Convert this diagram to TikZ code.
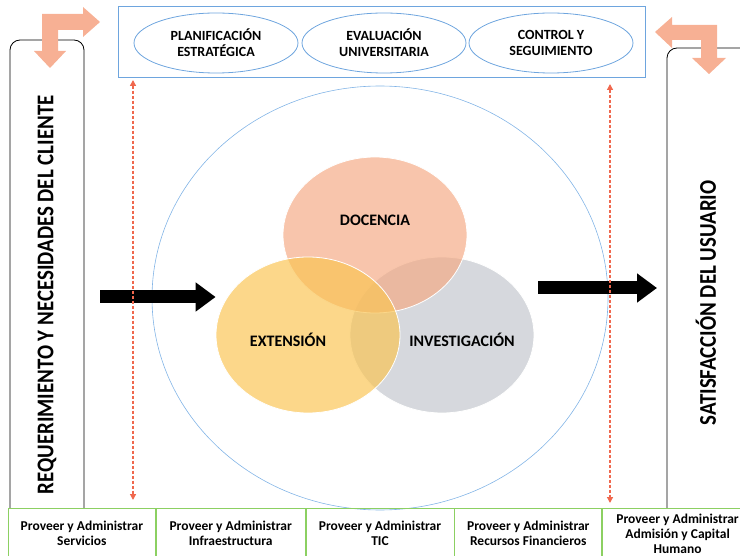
\documentclass[tikz,border=0pt]{standalone}
\usepackage{fontspec}
\setmainfont{Carlito}
\usepackage{tikz}
\usetikzlibrary{shapes.geometric,arrows.meta,positioning,calc}

\definecolor{topblue}{RGB}{110,165,222}
\definecolor{ringblue}{RGB}{130,180,230}
\definecolor{bentorange}{RGB}{247,176,148}
\definecolor{dashorange}{RGB}{240,104,78}
\definecolor{boxgreen}{RGB}{140,208,98}
\definecolor{docfill}{RGB}{245,170,132}
\definecolor{extfill}{RGB}{250,196,82}
\definecolor{invfill}{RGB}{196,200,206}
\definecolor{txt}{RGB}{30,30,30}

\begin{document}
\begin{tikzpicture}[
    x=1pt, y=-1pt,
    font=\bfseries\color{txt},
    goal/.style={ellipse, draw=topblue, thick, minimum width=164pt, minimum height=60pt, inner sep=0pt, align=center, font=\fontsize{14}{16}\selectfont\bfseries},
    venn/.style={ellipse, draw=white, thick, minimum width=184pt, minimum height=156pt},
    vennlabel/.style={font=\fontsize{16}{18}\selectfont\bfseries},
    sidetext/.style={rotate=90, font=\fontsize{24}{26}\selectfont\bfseries},
    process/.style={rectangle, draw=boxgreen, thick, minimum height=50pt, inner sep=1pt, align=center, anchor=north west, font=\fontsize{13.5}{15}\selectfont\bfseries},
    bentarrow/.style={fill=bentorange, draw=none},
    blockarrow/.style={line width=13pt, -{Triangle[length=20pt,width=28pt]}},
    dasharrow/.style={line width=1.3pt, dash pattern=on 3pt off 2pt, draw=dashorange, {Triangle[length=6pt,width=6pt]}-{Triangle[length=6pt,width=6pt]}}
]
    \useasboundingbox (0,0) rectangle (740,556);

    % top management box
    \node[draw=topblue, thick, minimum width=527pt, minimum height=71pt] (gestion) at (381.5,41.5) {};
    \node[goal] (planif) at (216,43) {PLANIFICACIÓN\\ESTRATÉGICA};
    \node[goal] (evalua) at (384,43) {EVALUACIÓN\\UNIVERSITARIA};
    \node[goal] (control) at (551,43) {CONTROL Y\\SEGUIMIENTO};

    % side columns
    \draw[thick, rounded corners=10pt] (10,508) |- (84,40) -- (84,508);
    \draw[thick, rounded corners=10pt] (667,508) |- (770,48);
    \node[sidetext] (cliente) at (47,295) {\scalebox{0.87}[1]{REQUERIMIENTO Y NECESIDADES DEL CLIENTE}};
    \node[sidetext] (usuario) at (706,303) {\scalebox{0.87}[1]{SATISFACCIÓN DEL USUARIO}};

    % bent arrows
    \fill[bentarrow] (42,14) -- (83,14) -- (83,7) -- (100,22) -- (83,37) -- (83,30) -- (58,30)
        -- (58,51) -- (66,51) -- (50,68) -- (34,51) -- (42,51) -- cycle;
    \fill[bentarrow] (717,25) -- (717,58) -- (726,58) -- (709,74) -- (692,58) -- (701,58)
        -- (701,40) -- (672,40) -- (672,48) -- (655,32) -- (672,17) -- (672,25) -- cycle;

    % university ring and venn
    \node[ellipse, draw=ringblue, semithick, minimum width=456pt, minimum height=424pt] (uni) at (380,298) {};
    \node[venn, fill=invfill, fill opacity=0.7] (inv) at (442,335) {};
    \node[venn, fill=docfill, fill opacity=0.68] (doc) at (375,235) {};
    \node[venn, fill=extfill, fill opacity=0.68] (ext) at (308,335) {};
    \node[vennlabel] at (375,220) {DOCENCIA};
    \node[vennlabel] at (288,340) {EXTENSIÓN};
    \node[vennlabel] at (462,340) {INVESTIGACIÓN};

    % support processes
    \node[process, minimum width=147pt] (servicios) at (8,508) {Proveer y Administrar\\Servicios};
    \node[process, minimum width=149pt, right=0pt of servicios.north east, anchor=north west] (infra) {Proveer y Administrar\\Infraestructura};
    \node[process, minimum width=148pt, right=0pt of infra.north east, anchor=north west] (tic) {Proveer y Administrar\\TIC};
    \node[process, minimum width=147pt, right=0pt of tic.north east, anchor=north west] (finanzas) {Proveer y Administrar\\Recursos Financieros};
    \node[process, minimum width=150pt, right=0pt of finanzas.north east, anchor=north west] (admision) {Proveer y Administrar\\Admisión y Capital\\Humano};

    % flows
    \coordinate (entrada) at (100,297);
    \coordinate (salida) at (657,288);
    \draw[blockarrow] (entrada) -- (entrada -| ext.west);
    \draw[blockarrow] (salida -| inv.east) ++(4,0) -- (salida);

    \coordinate (izqA) at (133,80);
    \coordinate (izqB) at (133,500);
    \coordinate (derA) at (610,84);
    \coordinate (derB) at (610,503);
    \draw[dasharrow] (izqA) -- (izqB);
    \draw[dasharrow] (derA) -- (derB);
\end{tikzpicture}
\end{document}
